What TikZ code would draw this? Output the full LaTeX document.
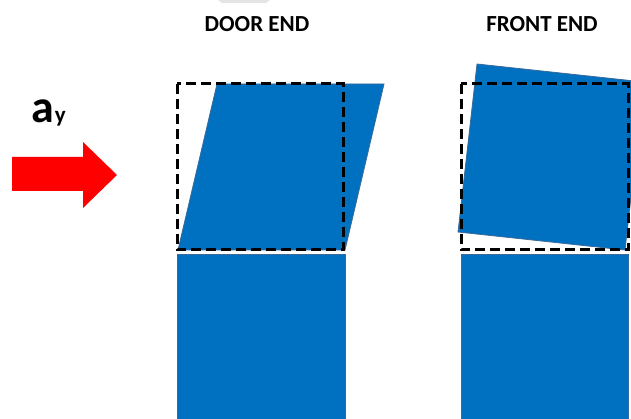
\documentclass[tikz,border=0pt]{standalone}
\usepackage{fontspec}
\setmainfont{Carlito}
\usepackage{xcolor}
\usetikzlibrary{positioning}
\definecolor{blockBlue}{HTML}{0070C0}
\definecolor{blockEdge}{HTML}{3A6A9A}
\definecolor{accelRed}{HTML}{FF0000}
\definecolor{ghostGray}{HTML}{E4E4E4}

\begin{document}
\begin{tikzpicture}[x=1pt, y=-1pt,
  block/.style={fill=blockBlue, draw=blockEdge, line width=0.8pt},
  outline/.style={draw=black, line width=3pt, dash pattern=on 10pt off 5pt},
  title/.style={font=\fontsize{23}{27}\selectfont\bfseries}]
\useasboundingbox (0,0) rectangle (631,419);
\clip (0,0) rectangle (631,419);

\fill[ghostGray] (218,0) -- (270,0) -- (266,3) -- (222,3) -- cycle;

% acceleration
\node[font=\fontsize{46}{52}\selectfont\bfseries, inner sep=0pt, anchor=base] (acc) at (43,123) {a};
\node[font=\fontsize{23}{27}\selectfont\bfseries, inner sep=0pt, anchor=base west] (accsub) at (acc.base east) {y};
\fill[accelRed] (12,157) -- (83,157) -- (83,142) -- (117,175) -- (83,208) -- (83,191) -- (12,191) -- cycle;

% door end
\node[title] (door) at (257,24) {DOOR END};
\draw[block] (177,254) rectangle (345,425);
\draw[block] (178,250) -- (345,250) -- (384,84) -- (217,84) -- cycle;
\draw[outline] (177,84) rectangle (343,250);

% front end
\node[title] (front) at (542,24) {FRONT END};
\draw[block] (461,254) rectangle (628,425);
\draw[block] (477,64) -- (644,82) -- (625,250) -- (458,232) -- cycle;
\draw[outline] (461,84) rectangle (628,250);
\end{tikzpicture}
\end{document}
